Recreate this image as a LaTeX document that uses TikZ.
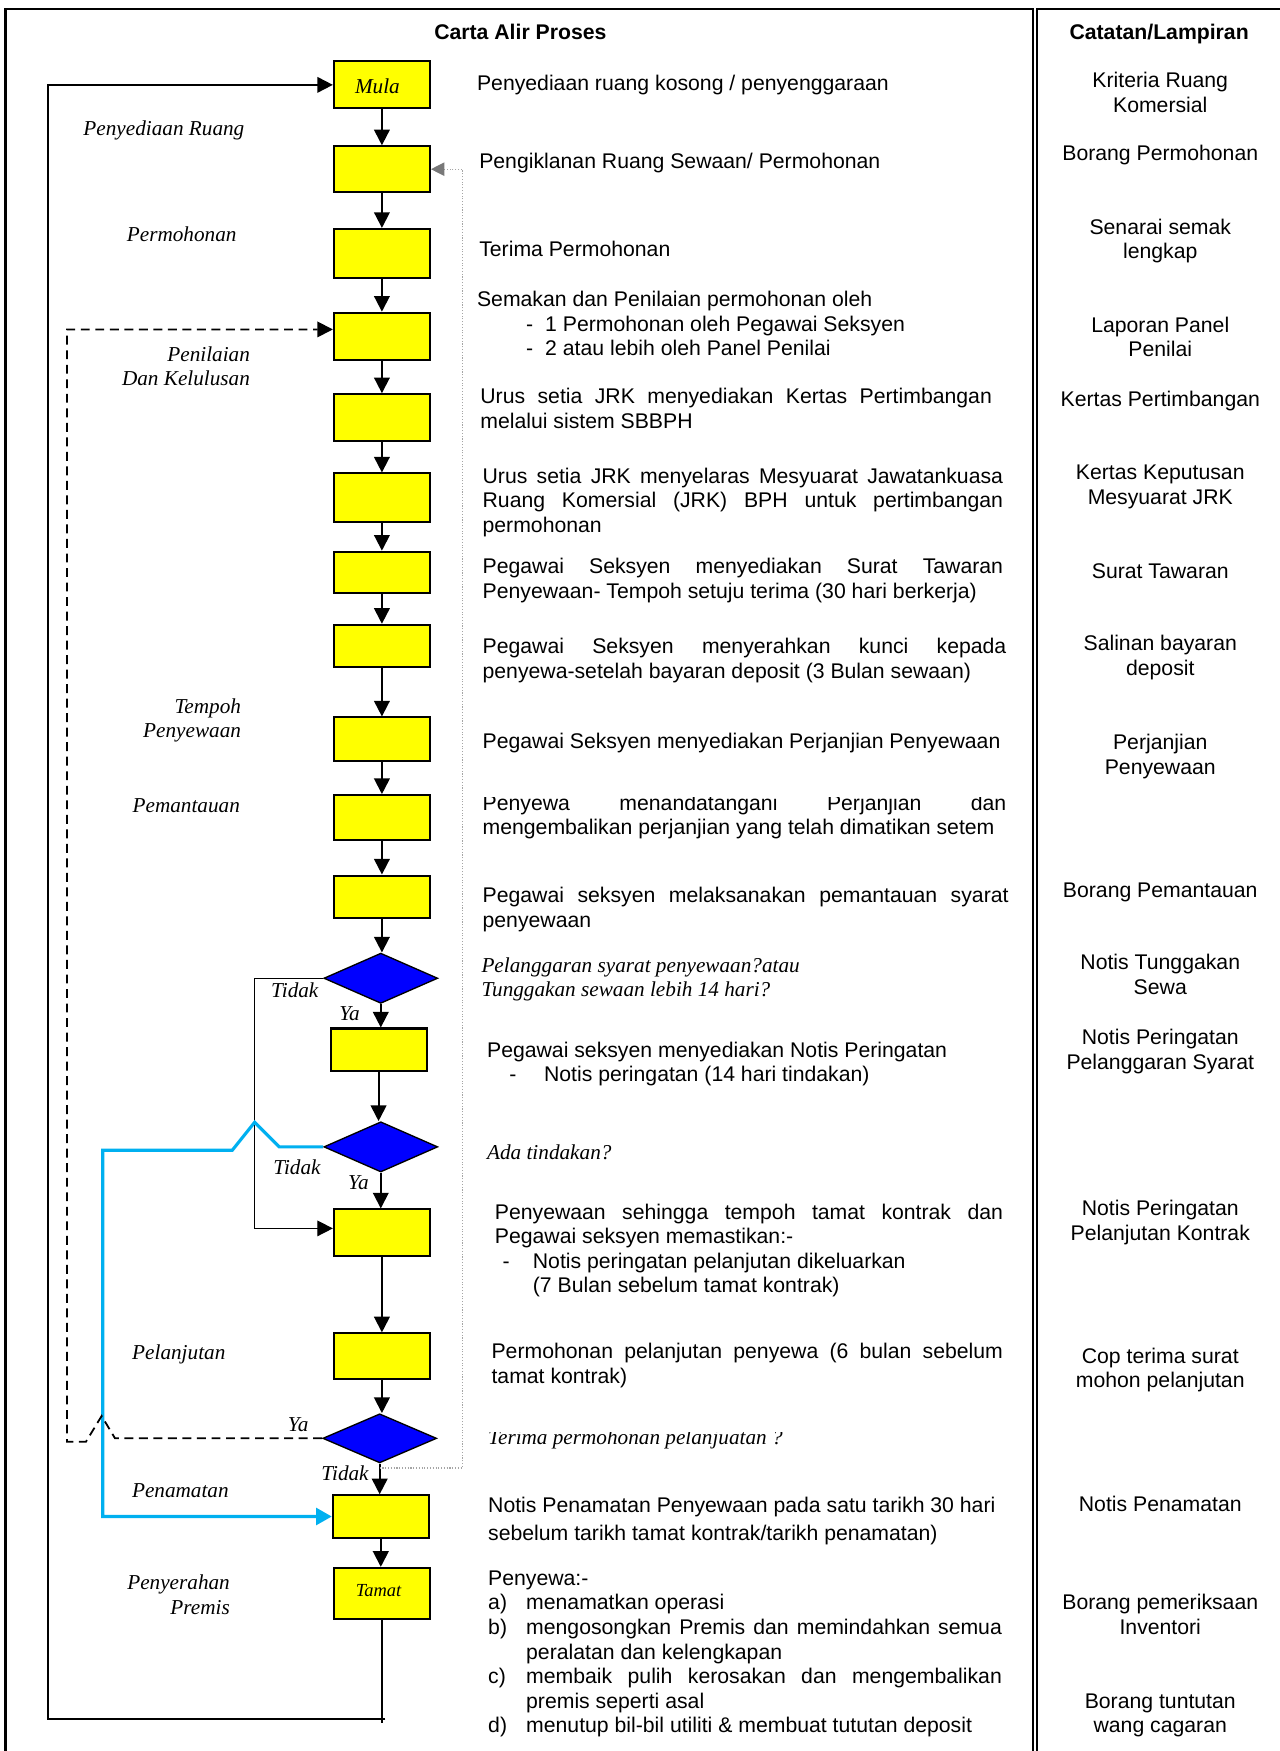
\documentclass[tikz,border=0pt]{standalone}
\usepackage{fontspec}
\setmainfont{Liberation Sans}
\newfontfamily\tms{Liberation Serif}
\usetikzlibrary{shapes.geometric,arrows.meta}
\definecolor{boxyellow}{RGB}{255,255,0}
\definecolor{decblue}{RGB}{0,0,255}
\definecolor{skyline}{RGB}{0,176,240}
\definecolor{dotgray}{RGB}{165,165,165}
\definecolor{tipgray}{RGB}{120,120,120}
\begin{document}
\begin{tikzpicture}[x=1pt,y=-1pt,
  box/.style={draw=black,line width=1.8pt,fill=boxyellow,minimum width=86pt,inner sep=0pt},
  dec/.style={diamond,draw=black,line width=1.2pt,fill=decblue,minimum width=102pt,minimum height=45pt,inner sep=0pt},
  arr/.style={line width=1.7pt,-{Triangle[length=14pt,width=14pt]}},
  thinarr/.style={line width=1.3pt,-{Triangle[length=14pt,width=14pt]}},
  bluearr/.style={line width=2.8pt,draw=skyline,-{Triangle[length=14pt,width=15pt,color=skyline]}},
  dasharr/.style={line width=1.6pt,dash pattern=on 8pt off 5pt,-{Triangle[length=14pt,width=14pt]}},
  dotarr/.style={line width=1pt,draw=dotgray,dash pattern=on 1pt off 1.5pt,-{Triangle[length=12pt,width=12pt,color=tipgray]}},
  frame/.style={line width=2pt},
  txt/.style={anchor=north west,inner sep=0pt,align=left,font=\fontsize{19}{22}\selectfont},
  itxt/.style={anchor=north west,inner sep=0pt,align=left,font=\tms\itshape\fontsize{19}{22}\selectfont},
  rtxt/.style={anchor=north,inner sep=0pt,align=center,font=\fontsize{19}{22}\selectfont},
  lbl/.style={anchor=north east,inner sep=0pt,align=right,font=\tms\itshape\fontsize{19}{22}\selectfont},
  yn/.style={inner sep=0pt,font=\tms\itshape\fontsize{19}{22}\selectfont},
  ttl/.style={anchor=north,inner sep=0pt,font=\bfseries\fontsize{19}{22}\selectfont}
]
\useasboundingbox[fill=white] (0,0) rectangle (1146.2,1568);

% frames
\draw[frame] (5,1575) -- (5,8) -- (925,8) -- (925,1575);
\draw[frame] (928.5,1575) -- (928.5,8) -- (1150,8);

% titles
\node[ttl] (tl) at (466,20) {\strut Carta Alir Proses};
\node[ttl] (tr) at (1038,20) {\strut Catatan/Lampiran};

% boxes
\node[box,minimum height=42pt] (b1) at (342,76) {};
\node[inner sep=0pt,font=\tms\itshape\fontsize{19}{22}\selectfont] (mula) at (338,77) {Mula};
\node[box,minimum height=41pt] (b2) at (342,151.5) {};
\node[box,minimum height=44pt] (b3) at (342,227) {};
\node[box,minimum height=42pt] (b4) at (342,301) {};
\node[box,minimum height=42pt] (b5) at (342,374) {};
\node[box,minimum height=43pt] (b6) at (342,445.5) {};
\node[box,minimum height=37pt] (b7) at (342,512.5) {};
\node[box,minimum height=38pt] (b8) at (342,578.5) {};
\node[box,minimum height=39pt] (b9) at (342,662) {};
\node[box,minimum height=40pt] (b10) at (342,732) {};
\node[box,minimum height=38pt] (b11) at (342,803) {};
\node[dec] (d1) at (341,876) {};
\node[box,minimum height=38pt] (b12) at (339,940) {};
\node[dec] (d2) at (341,1027) {};
\node[box,minimum height=42pt] (b13) at (342,1104) {};
\node[box,minimum height=41pt] (b14) at (342,1214.5) {};
\node[dec,minimum height=44pt] (d3) at (340,1288) {};
\node[box,minimum height=38pt] (b15) at (341,1358) {};
\node[box,minimum height=46pt] (b16) at (342,1427) {};
\node[inner sep=0pt,font=\tms\itshape\fontsize{16.5}{18}\selectfont] (tamat) at (339,1424) {Tamat};

% main vertical arrows
\foreach \a/\b in {b1/b2,b2/b3,b3/b4,b4/b5,b5/b6,b6/b7,b7/b8,b8/b9,b9/b10,b10/b11,b11/d1,d1/b12,b12/d2,d2/b13,b13/b14,b14/d3,d3/b15,b15/b16}
  \draw[arr] (\a.south) -- (\a.south |- \b.north);

% Tidak branch from first decision
\coordinate (tk) at (228,1000);
\draw[thinarr] (d1.west) -| (tk) |- ([yshift=4pt]b13.west);

% blue branch from second decision
\coordinate (bj1) at (250,1027);
\coordinate (bj2) at (228,1005);
\coordinate (bj3) at (208,1030);
\coordinate (bj4) at (92,1030);
\draw[bluearr] (d2.west) -- (bj1) -- (bj2) -- (bj3) -- (bj4) |- (b15.west);

% dashed Ya branch from third decision
\coordinate (dj1) at (103,1288);
\coordinate (dj2) at (91,1268);
\coordinate (dj3) at (77,1291);
\coordinate (dj4) at (60,1291);
\draw[dasharr] (d3.west) -- (dj1) -- (dj2) -- (dj3) -- (dj4) |- ([yshift=6pt]b4.west);

% grey dotted return
\coordinate (gr) at (414,700);
\draw[dotarr] ([yshift=-4pt]d3.south) -| (gr) |- (b2.east);

% return from Tamat to Mula
\coordinate (tb) at (342,1543);
\coordinate (rr) at (345,1539);
\coordinate (rl) at (43,1539);
\draw[line width=1.6pt] (b16.south) -- (tb);
\draw[arr] (rr) -- (rl) |- (b1.west);

% Ya / Tidak labels
\node[yn] (n1) at (264,887) {Tidak};
\node[yn] (y1) at (313,908) {Ya};
\node[yn] (n2) at (266,1045) {Tidak};
\node[yn] (y2) at (321,1059) {Ya};
\node[yn] (y3) at (267,1276) {Ya};
\node[yn] (n3) at (309,1319) {Tidak};

% stage labels
\node[lbl] (l1) at (219,106) {\strut Penyediaan Ruang};
\node[lbl] (l2) at (212,201) {\strut Permohonan};
\node[lbl] (l3) at (224,308) {\strut Penilaian\\Dan Kelulusan};
\node[lbl] (l4) at (216,623) {\strut Tempoh\\Penyewaan};
\node[lbl] (l5) at (215,712) {\strut Pemantauan};
\node[lbl] (l6) at (202,1202) {\strut Pelanjutan};
\node[lbl] (l7) at (205,1325) {\strut Penamatan};
\node[lbl] (l8) at (206,1408) {\strut Penyerahan\\Premis};

% process texts
\node[txt] (t1) at (427,65) {\strut Penyediaan ruang kosong / penyenggaraan};
\node[txt] (t2) at (429,135) {\strut Pengiklanan Ruang Sewaan/ Permohonan};
\node[txt] (t3) at (429,214) {\strut Terima Permohonan};
\node[txt] (t4) at (427,259) {\strut Semakan dan Penilaian permohonan oleh\\\hspace*{44pt}\makebox[17pt][l]{-}1 Permohonan oleh Pegawai Seksyen\\\hspace*{44pt}\makebox[17pt][l]{-}2 atau lebih oleh Panel Penilai};
\node[txt] (t5) at (430,346) {\strut\makebox[458pt][s]{Urus setia JRK menyediakan Kertas Pertimbangan}\\melalui sistem SBBPH};
\node[txt] (t6) at (432,417) {\strut\makebox[466pt][s]{Urus setia JRK menyelaras Mesyuarat Jawatankuasa}\\\makebox[466pt][s]{Ruang Komersial (JRK) BPH untuk pertimbangan}\\permohonan};
\node[txt] (t7) at (432,498) {\strut\makebox[466pt][s]{Pegawai Seksyen menyediakan Surat Tawaran}\\Penyewaan- Tempoh setuju terima (30 hari berkerja)};
\node[txt] (t8) at (432,570) {\strut\makebox[469pt][s]{Pegawai Seksyen menyerahkan kunci kepada}\\penyewa-setelah bayaran deposit (3 Bulan sewaan)};
\node[txt] (t9) at (432,655) {\strut Pegawai Seksyen menyediakan Perjanjian Penyewaan};
\begin{scope}
\clip (420,714) rectangle (915,765);
\node[txt] (t10) at (432,710) {\strut\makebox[469pt][s]{Penyewa menandatangani Perjanjian dan}\\mengembalikan perjanjian yang telah dimatikan setem};
\end{scope}
\node[txt] (t11) at (432,793) {\strut\makebox[471pt][s]{Pegawai seksyen melaksanakan pemantauan syarat}\\penyewaan};
\node[itxt] (t12) at (431,855) {\strut Pelanggaran syarat penyewaan?atau\\Tunggakan sewaan lebih 14 hari?};
\node[txt] (t13) at (436,931) {\strut Pegawai seksyen menyediakan Notis Peringatan\\\hspace*{20pt}\makebox[31pt][l]{-}Notis peringatan (14 hari tindakan)};
\node[itxt] (t14) at (436,1023) {\strut Ada tindakan?};
\node[txt] (t15) at (443,1076) {\strut\makebox[455pt][s]{Penyewaan sehingga tempoh tamat kontrak dan}\\Pegawai seksyen memastikan:-\\\hspace*{7pt}\makebox[27pt][l]{-}Notis peringatan pelanjutan dikeluarkan\\\hspace*{34pt}(7 Bulan sebelum tamat kontrak)};
\node[txt] (t16) at (440,1201) {\strut\makebox[458pt][s]{Permohonan pelanjutan penyewa (6 bulan sebelum}\\tamat kontrak)};
\begin{scope}
\clip (420,1283) rectangle (915,1305);
\node[itxt] (t17) at (437,1278) {\strut Terima permohonan pelanjuatan ?};
\end{scope}
\node[txt,font=\fontsize{19}{25}\selectfont] (t18) at (437,1337) {\strut Notis Penamatan Penyewaan pada satu tarikh 30 hari\\sebelum tarikh tamat kontrak/tarikh penamatan)};
\node[txt] (t19) at (437,1404) {\strut Penyewa:-\\\makebox[34pt][l]{a)}menamatkan operasi\\\makebox[34pt][l]{b)}\makebox[426pt][s]{mengosongkan Premis dan memindahkan semua}\\\hspace*{34pt}peralatan dan kelengkapan\\\makebox[34pt][l]{c)}\makebox[426pt][s]{membaik pulih kerosakan dan mengembalikan}\\\hspace*{34pt}premis seperti asal\\\makebox[34pt][l]{d)}menutup bil-bil utiliti \& membuat tututan deposit};

% right column
\node[rtxt] (r1) at (1039,63) {\strut Kriteria Ruang\\Komersial};
\node[rtxt] (r2) at (1039,128) {\strut Borang Permohonan};
\node[rtxt] (r3) at (1039,194) {\strut Senarai semak\\lengkap};
\node[rtxt] (r4) at (1039,282) {\strut Laporan Panel\\Penilai};
\node[rtxt] (r5) at (1039,348) {\strut Kertas Pertimbangan};
\node[rtxt] (r6) at (1039,414) {\strut Kertas Keputusan\\Mesyuarat JRK};
\node[rtxt] (r7) at (1039,502) {\strut Surat Tawaran};
\node[rtxt] (r8) at (1039,567) {\strut Salinan bayaran\\deposit};
\node[rtxt] (r9) at (1039,656) {\strut Perjanjian\\Penyewaan};
\node[rtxt] (r10) at (1039,788) {\strut Borang Pemantauan};
\node[rtxt] (r11) at (1039,853) {\strut Notis Tunggakan\\Sewa};
\node[rtxt] (r12) at (1039,920) {\strut Notis Peringatan\\Pelanggaran Syarat};
\node[rtxt] (r13) at (1039,1073) {\strut Notis Peringatan\\Pelanjutan Kontrak};
\node[rtxt] (r14) at (1039,1205) {\strut Cop terima surat\\mohon pelanjutan};
\node[rtxt] (r15) at (1039,1338) {\strut Notis Penamatan};
\node[rtxt] (r16) at (1039,1426) {\strut Borang pemeriksaan\\Inventori};
\node[rtxt] (r17) at (1039,1514) {\strut Borang tuntutan\\wang cagaran};
\end{tikzpicture}
\end{document}
